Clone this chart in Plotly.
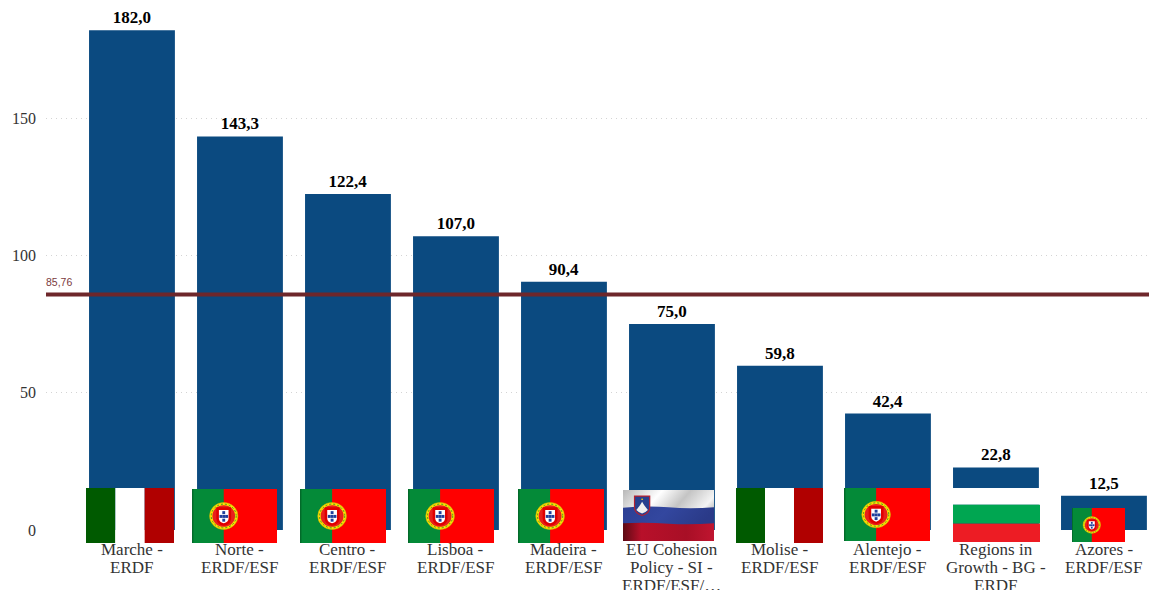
import base64
import plotly.graph_objects as go

categories = [["Marche -", "ERDF"], ["Norte -", "ERDF/ESF"], ["Centro -", "ERDF/ESF"], ["Lisboa -", "ERDF/ESF"],
              ["Madeira -", "ERDF/ESF"], ["EU Cohesion", "Policy - SI -", "ERDF/ESF/…"], ["Molise -", "ERDF/ESF"],
              ["Alentejo -", "ERDF/ESF"], ["Regions in", "Growth - BG -", "ERDF"], ["Azores -", "ERDF/ESF"]]
values = [182.0, 143.3, 122.4, 107.0, 90.4, 75.0, 59.8, 42.4, 22.8, 12.5]
average = 85.76
flags = ["it", "pt", "pt", "pt", "pt", "si", "it", "pt", "bg", "pt"]

# flag placement in screen pixels: left, right, top, bottom
flag_boxes = [(86, 174, 488, 543), (192, 277, 489, 543), (300, 386, 489, 543), (408, 494, 489, 543),
              (518, 604, 489, 543), (623, 714, 490, 541), (736, 823, 488, 543), (844, 930, 488, 541),
              (953, 1040, 488, 542), (1072, 1125, 508, 542)]

W, H = 1149, 590
L, R, T, B = 46, 0, 0, 60


def svg_uri(body, w=300, h=200):
    svg = (f'<svg xmlns="http://www.w3.org/2000/svg" width="{w}" height="{h}" '
           f'viewBox="0 0 {w} {h}" preserveAspectRatio="none">{body}</svg>')
    return "data:image/svg+xml;base64," + base64.b64encode(svg.encode()).decode()


IT = ('<rect width="100" height="200" fill="#005a00"/><rect x="100" width="100" height="200" fill="#fff"/>'
      '<rect x="200" width="100" height="200" fill="#b00000"/>')
BG = ('<rect width="300" height="62" fill="#fff"/><rect y="62" width="300" height="70" fill="#00a651"/>'
      '<rect y="132" width="300" height="68" fill="#ed1c24"/>')
PT = ('<rect width="300" height="200" fill="#ff0000"/><rect width="112" height="200" fill="#048a38"/>'
      '<rect width="5" height="200" fill="#036a2a"/>'
      '<circle cx="112" cy="100" r="50" fill="#ffe000" stroke="#c8b400" stroke-width="2"/>'
      '<circle cx="112" cy="100" r="40" fill="#e8201c"/>'
      '<circle cx="112" cy="100" r="44" fill="none" stroke="#1f8a2c" stroke-width="3" stroke-dasharray="7 7"/>'
      '<path d="M86 68h52v40q0 24-26 28q-26-4-26-28z" fill="#e00000"/>'
      '<path d="M95 78h34v30q0 14-17 19q-17-5-17-19z" fill="#fff"/>'
      '<rect x="107" y="82" width="10" height="11" fill="#1f3f9c"/><rect x="97" y="96" width="10" height="11" fill="#1f3f9c"/>'
      '<rect x="117" y="96" width="10" height="11" fill="#1f3f9c"/><rect x="107" y="96" width="10" height="11" fill="#1f3f9c"/>'
      '<rect x="107" y="110" width="10" height="11" fill="#1f3f9c"/>')
SI = ('<defs><linearGradient id="w" x1="0" y1="0" x2="1" y2="0.5">'
      '<stop offset="0" stop-color="#b8b8b8"/><stop offset="0.35" stop-color="#fff"/>'
      '<stop offset="0.6" stop-color="#c4c4c4"/><stop offset="0.85" stop-color="#f4f4f4"/><stop offset="1" stop-color="#a8a8a8"/>'
      '</linearGradient>'
      '<linearGradient id="b" x1="0" y1="0" x2="1" y2="0.2"><stop offset="0" stop-color="#2c3f94"/>'
      '<stop offset="0.5" stop-color="#33479f"/><stop offset="1" stop-color="#2a3a88"/></linearGradient>'
      '<linearGradient id="r" x1="0" y1="0" x2="1" y2="0"><stop offset="0" stop-color="#5c0a14"/>'
      '<stop offset="0.2" stop-color="#b8102a"/><stop offset="0.7" stop-color="#a80f26"/><stop offset="1" stop-color="#c01530"/></linearGradient></defs>'
      '<rect width="300" height="200" fill="url(#w)"/>'
      '<path d="M0 70Q80 60 150 68T300 68V140H0z" fill="url(#b)"/>'
      '<path d="M0 130Q80 126 150 132T300 130V200H0z" fill="url(#r)"/>'
      '<path d="M38 24h50v46q0 20-25 30q-25-10-25-30z" fill="#26408f" stroke="#b52030" stroke-width="4"/>'
      '<path d="M44 78l12-18l7-14l7 14l12 18q-8 10-19 14q-11-4-19-14z" fill="#f0f0f0"/>'
      '<circle cx="63" cy="36" r="3" fill="#ffd800"/>')
FLAG_SVG = {"it": IT, "pt": PT, "si": SI, "bg": BG}

positions = list(range(len(values)))
fig = go.Figure(go.Bar(
    x=positions, y=values, marker=dict(color="#0b4a80", line=dict(width=0)),
    text=values, texttemplate="%{y:.1f}", textposition="outside", cliponaxis=False,
    textfont=dict(family="Liberation Serif", size=17, color="#000000", weight="bold"),
))

images = []
for code, (x0, x1, y0, y1) in zip(flags, flag_boxes):
    images.append(dict(
        source=svg_uri(FLAG_SVG[code]), xref="paper", yref="paper",
        x=(x0 - L) / (W - L - R), y=1 - (y0 - T) / (H - T - B),
        sizex=(x1 - x0) / (W - L - R), sizey=(y1 - y0) / (H - T - B),
        xanchor="left", yanchor="top", sizing="stretch", layer="above",
    ))

annotations = [dict(xref="paper", x=0, yref="y", y=average, yshift=4, xshift=-2, xanchor="left", yanchor="bottom",
                    text=f"{average:.2f}".replace(".", ","), showarrow=False,
                    font=dict(family="Liberation Sans", size=10.5, color="#7b3a3e"))]
for pos, lines in zip(positions, categories):
    for i, line in enumerate(lines):
        annotations.append(dict(xref="x", x=pos, yref="y", y=0, yshift=-19 - 18 * i, xanchor="center",
                                yanchor="middle", text=line, showarrow=False,
                                font=dict(family="Liberation Serif", size=17, color="#333333")))

fig.update_layout(
    width=W, height=H, margin=dict(l=L, r=R, t=T, b=B, pad=0),
    paper_bgcolor="white", plot_bgcolor="white", showlegend=False,
    bargap=0.205, separators=",.", images=images,
    font=dict(family="Liberation Serif", size=16, color="#333333"),
    xaxis=dict(range=[-0.796, 9.417], tickvals=[], showgrid=False, zeroline=False, showline=False),
    yaxis=dict(range=[0, 193.0], tickvals=[0, 50, 100, 150], showgrid=True, gridcolor="#d4d4d4",
               griddash="1px,4px", gridwidth=1, zeroline=False, showline=False, ticks="",
               ticklabelstandoff=9, tickfont=dict(family="Liberation Serif", size=16, color="#333333")),
    shapes=[dict(type="line", xref="paper", x0=0, x1=1, yref="y", y0=average, y1=average,
                 line=dict(color="#6e272b", width=4), layer="above")],
    annotations=annotations,
)
fig.write_html("out.html", config={"displayModeBar": False},
               post_script="document.body.style.margin='0';document.documentElement.style.overflow='hidden';")
